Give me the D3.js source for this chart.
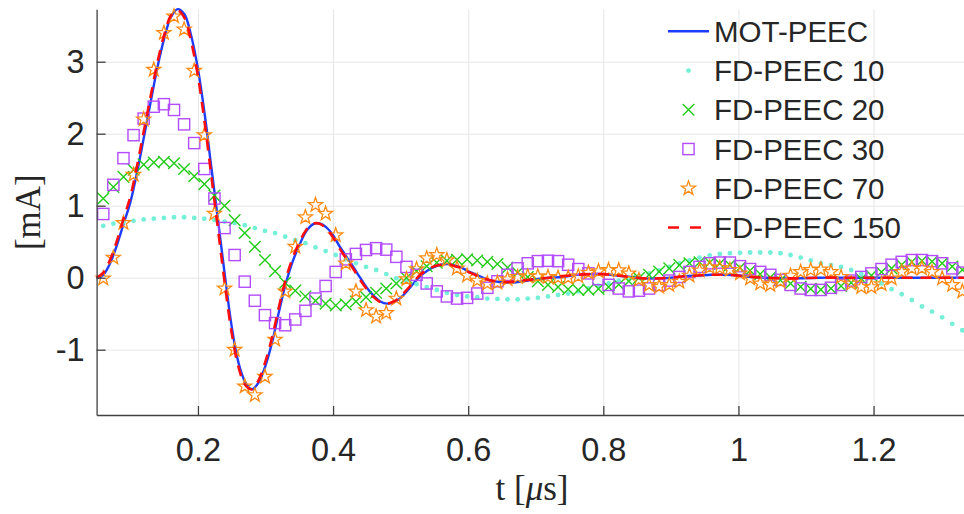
<!DOCTYPE html>
<html><head><meta charset="utf-8">
<script src="https://cdn.jsdelivr.net/npm/d3@7"></script>
<style>html,body{margin:0;padding:0;background:#fff;} svg{display:block;}</style>
</head><body>
<svg id="chart" width="964" height="514"></svg>
<script>
// ---------------- DATA ----------------
// Reference solution (MOT-PEEC), smooth curve: time [us] and current [mA]
const motT = [0.05,0.06,0.07,0.08,0.09,0.10,0.11,0.12,0.13,0.14,0.15,0.16,0.17,0.18,0.19,0.20,0.21,0.22,0.23,0.24,0.25,0.26,0.27,0.28,0.29,0.30,0.31,0.32,0.33,0.34,0.35,0.36,0.37,0.38,0.39,0.40,0.41,0.42,0.43,0.44,0.45,0.46,0.47,0.48,0.49,0.50,0.51,0.52,0.53,0.54,0.55,0.56,0.57,0.58,0.59,0.60,0.61,0.62,0.63,0.64,0.66,0.68,0.70,0.72,0.74,0.76,0.78,0.80,0.82,0.84,0.86,0.88,0.90,0.92,0.94,0.96,0.98,1.00,1.02,1.04,1.08,1.12,1.16,1.20,1.24,1.28,1.32,1.35];
const motV = [-0.01,0.04,0.20,0.45,0.75,1.05,1.47,1.95,2.44,2.92,3.32,3.62,3.73,3.66,3.36,2.90,2.27,1.52,0.78,0.02,-0.68,-1.18,-1.45,-1.55,-1.45,-1.22,-0.89,-0.47,-0.08,0.22,0.45,0.64,0.74,0.755,0.70,0.59,0.43,0.29,0.15,0.00,-0.14,-0.25,-0.33,-0.36,-0.34,-0.28,-0.18,-0.07,0.03,0.10,0.15,0.18,0.19,0.17,0.14,0.09,0.05,0.01,-0.03,-0.05,-0.07,-0.05,-0.02,0.00,0.01,0.04,0.05,0.05,0.03,0.01,-0.01,-0.01,0.00,0.02,0.03,0.04,0.04,0.03,0.01,0.00,-0.01,0.00,0.00,0.00,0.00,0.00,0.00,0.00];
// FD-PEEC 150 (dashed line), same time base
const fd150V = [0.00,0.07,0.25,0.51,0.82,1.13,1.56,2.04,2.52,2.99,3.37,3.64,3.71,3.61,3.28,2.80,2.15,1.40,0.65,-0.10,-0.77,-1.24,-1.49,-1.55,-1.42,-1.16,-0.82,-0.40,-0.02,0.27,0.49,0.66,0.75,0.75,0.68,0.56,0.40,0.26,0.12,-0.03,-0.16,-0.27,-0.34,-0.36,-0.33,-0.26,-0.16,-0.05,0.05,0.11,0.16,0.18,0.19,0.16,0.13,0.08,0.04,0.00,-0.03,-0.05,-0.06,-0.04,-0.02,0.00,0.02,0.04,0.05,0.05,0.03,0.01,-0.01,-0.01,0.00,0.02,0.03,0.04,0.04,0.03,0.01,0.00,-0.01,0.00,0.00,0.00,0.00,0.00,0.00,0.00];

// Marker series are sampled on a common time step
const sampleStep = 0.01496;      // us
const sampleFirst = 4, sampleLast = 89;   // sample indices shown
const fd10V = [0.72,0.75,0.77,0.79,0.81,0.82,0.83,0.84,0.84,0.83,
  0.82,0.80,0.78,0.76,0.73,0.69,0.65,0.62,0.57,0.52,
  0.48,0.42,0.37,0.315,0.255,0.20,0.15,0.107,0.05,-0.01,
  -0.05,-0.09,-0.13,-0.17,-0.21,-0.24,-0.26,-0.27,-0.29,-0.295,
  -0.30,-0.30,-0.29,-0.28,-0.26,-0.24,-0.22,-0.19,-0.15,-0.11,
  -0.08,-0.04,-0.01,0.02,0.06,0.10,0.15,0.20,0.24,0.28,
  0.31,0.33,0.34,0.345,0.35,0.35,0.35,0.34,0.315,0.28,
  0.24,0.20,0.175,0.15,0.107,0.05,-0.01,-0.08,-0.16,-0.23,
  -0.31,-0.40,-0.47,-0.55,-0.64,-0.73];
const fd20V = [1.10,1.26,1.40,1.50,1.57,1.60,1.61,1.59,1.51,1.41,
  1.30,1.14,1.00,0.80,0.62,0.43,0.245,0.09,-0.07,-0.18,
  -0.26,-0.32,-0.36,-0.385,-0.37,-0.33,-0.27,-0.21,-0.15,-0.08,
  0.0,0.09,0.16,0.21,0.235,0.25,0.255,0.24,0.22,0.19,
  0.14,0.07,0.01,-0.05,-0.10,-0.13,-0.16,-0.17,-0.165,-0.155,
  -0.13,-0.095,-0.05,-0.005,0.04,0.085,0.13,0.175,0.20,0.215,
  0.21,0.195,0.175,0.14,0.10,0.05,0.005,-0.035,-0.08,-0.125,
  -0.155,-0.165,-0.15,-0.115,-0.07,-0.015,0.03,0.08,0.13,0.18,
  0.22,0.235,0.225,0.20,0.155,0.11];
const fd30V = [0.885,1.29,1.66,1.98,2.21,2.375,2.41,2.33,2.13,1.87,
  1.51,1.10,0.69,0.315,-0.055,-0.32,-0.52,-0.63,-0.66,-0.58,
  -0.46,-0.29,-0.115,0.08,0.255,0.33,0.385,0.41,0.39,0.29,
  0.15,0.04,-0.08,-0.19,-0.26,-0.29,-0.28,-0.22,-0.14,-0.05,
  0.04,0.13,0.20,0.23,0.235,0.23,0.18,0.12,0.06,-0.02,
  -0.10,-0.15,-0.19,-0.18,-0.15,-0.10,-0.04,0.01,0.08,0.15,
  0.20,0.21,0.21,0.16,0.12,0.08,0.04,-0.03,-0.10,-0.15,
  -0.17,-0.17,-0.14,-0.10,-0.04,0.01,0.06,0.12,0.18,0.22,
  0.245,0.245,0.23,0.20,0.13,0.07];
const fd70V = [-0.01,0.28,0.76,1.43,2.20,2.89,3.40,3.63,3.45,2.875,
  1.98,0.89,-0.15,-1.00,-1.51,-1.63,-1.375,-0.86,-0.19,0.43,
  0.84,1.01,0.89,0.59,0.20,-0.19,-0.45,-0.54,-0.49,-0.29,
  -0.02,0.12,0.27,0.315,0.245,0.13,0.03,-0.04,-0.08,-0.07,
  -0.02,0.01,0.02,0.02,0.01,0.0,0.0,0.02,0.07,0.09,
  0.107,0.105,0.06,-0.03,-0.10,-0.125,-0.10,-0.055,0.03,0.10,
  0.145,0.135,0.11,0.06,-0.01,-0.08,-0.10,-0.05,0.03,0.08,
  0.107,0.115,0.08,0.01,-0.08,-0.13,-0.13,-0.09,-0.01,0.08,
  0.13,0.13,0.08,-0.01,-0.10,-0.19];

const xTicks = [0.2,0.4,0.6,0.8,1,1.2];
const yTicks = [-1,0,1,2,3];
const seriesNames = ["MOT-PEEC","FD-PEEC 10","FD-PEEC 20","FD-PEEC 30","FD-PEEC 70","FD-PEEC 150"];
const yLabel = "[mA]";

// ---------------- STYLE ----------------
const C = {blue:"#1c3dff", red:"#ff0d0d", cyan:"#74f0d8", green:"#22cc18", purple:"#b34cff", orange:"#ff8a12",
           grid:"#e6e6e6", axis:"#404040", text:"#262626"};

const svg = d3.select("#chart");
const P = {left:96.6, right:974.9, top:9.3, bottom:415};
const x = d3.scaleLinear().domain([0.05,1.35]).range([P.left,P.right]);
const y = d3.scaleLinear().domain([-1.907,3.728]).range([P.bottom,P.top]);
const plotH = P.bottom - P.top, plotW = P.right - P.left;

// grid
svg.append("g").attr("transform",`translate(0,${P.bottom})`)
  .call(d3.axisBottom(x).tickValues(xTicks).tickSize(-plotH).tickFormat(""))
  .call(g=>{g.select(".domain").remove(); g.selectAll("line").attr("stroke",C.grid).attr("stroke-width",1);});
svg.append("g").attr("transform",`translate(${P.left},0)`)
  .call(d3.axisLeft(y).tickValues(yTicks).tickSize(-plotW).tickFormat(""))
  .call(g=>{g.select(".domain").remove(); g.selectAll("line").attr("stroke",C.grid).attr("stroke-width",1);});

// data
const sampleT = d3.range(sampleFirst, sampleLast+1).map(k => k*sampleStep);
const mot = motT.map((t,i)=>({t, v:motV[i]}));
const fd150 = motT.map((t,i)=>({t, v:fd150V[i]}));
const pts = arr => sampleT.map((t,i)=>({t, v:arr[i]}));

const line = d3.line().x(d=>x(d.t)).y(d=>y(d.v)).curve(d3.curveCatmullRom.alpha(0.5));
const plotG = svg.append("g");

plotG.append("path").datum(mot).attr("d",line).attr("fill","none").attr("stroke",C.blue).attr("stroke-width",2.4);

// marker shapes
function starPath(R){
  const r = R*0.4; let p="";
  for(let i=0;i<10;i++){
    const a = -Math.PI/2 + i*Math.PI/5, rr = i%2===0?R:r;
    p += (i?"L":"M") + (rr*Math.cos(a)).toFixed(2) + "," + (rr*Math.sin(a)).toFixed(2);
  }
  return p+"Z";
}
const markers = {
  dot: g => g.append("circle").attr("r",2.4).attr("fill",C.cyan),
  x: g => g.append("path").attr("d","M-5.8,-5.8L5.8,5.8M-5.8,5.8L5.8,-5.8").attr("stroke",C.green).attr("stroke-width",1.4).attr("fill","none"),
  sq: g => g.append("rect").attr("x",-5.6).attr("y",-5.6).attr("width",11.2).attr("height",11.2).attr("fill","none").attr("stroke",C.purple).attr("stroke-width",1.4),
  star: g => g.append("path").attr("d",starPath(7.4)).attr("fill","none").attr("stroke",C.orange).attr("stroke-width",1.3).attr("stroke-linejoin","miter")
};
function drawMarkers(data, kind){
  const g = plotG.append("g");
  g.selectAll("g").data(data).join("g")
    .attr("transform",d=>`translate(${x(d.t)},${y(d.v)})`)
    .each(function(){ markers[kind](d3.select(this)); });
}
drawMarkers(pts(fd10V),"dot");
drawMarkers(pts(fd20V),"x");
drawMarkers(pts(fd30V),"sq");
drawMarkers(pts(fd70V),"star");

plotG.append("path").datum(fd150).attr("d",line).attr("fill","none").attr("stroke",C.red).attr("stroke-width",2.6).attr("stroke-dasharray","11,8");

// axes
const fontSans = "'Liberation Sans', Arial, Helvetica, sans-serif";
svg.append("g").attr("transform",`translate(0,${P.bottom})`)
  .call(d3.axisBottom(x).tickValues(xTicks).tickSizeInner(-9).tickSizeOuter(0).tickPadding(23).tickFormat(d=>String(d)))
  .call(g=>{
    g.select(".domain").attr("stroke",C.axis).attr("stroke-width",1.3);
    g.selectAll(".tick line").attr("stroke",C.axis).attr("stroke-width",1.3);
    g.selectAll("text").attr("fill",C.text).attr("font-family",fontSans).attr("font-size",32.5);
  });
svg.append("g").attr("transform",`translate(${P.left},0)`)
  .call(d3.axisLeft(y).tickValues(yTicks).tickSizeInner(-9).tickSizeOuter(0).tickPadding(12).tickFormat(d=>String(d)))
  .call(g=>{
    g.select(".domain").attr("stroke",C.axis).attr("stroke-width",1.3);
    g.selectAll(".tick line").attr("stroke",C.axis).attr("stroke-width",1.3);
    g.selectAll("text").attr("fill",C.text).attr("font-family",fontSans).attr("font-size",32.5);
  });

// axis labels
const fontSerif = "'Liberation Serif', 'Times New Roman', serif";
const xl = svg.append("text").attr("x",532).attr("y",500).attr("text-anchor","middle")
  .attr("font-family",fontSerif).attr("font-size",35).attr("fill",C.text);
xl.append("tspan").text("t [");
xl.append("tspan").attr("font-style","italic").text("\u03BC");
xl.append("tspan").text("s]");
svg.append("text").attr("transform",`translate(40,${(P.top+P.bottom)/2}) rotate(-90)`).attr("text-anchor","middle")
  .attr("font-family",fontSerif).attr("font-size",35).attr("fill",C.text).text(yLabel);

// legend
const leg = svg.append("g");
const legX0 = 668, legX1 = 709, legTextX = 714, legY0 = 31.3, legDy = 39.25;
const legKinds = ["line","dot","x","sq","star","dash"];
seriesNames.forEach((name,i)=>{
  const cy = legY0 + i*legDy;
  const g = leg.append("g");
  const k = legKinds[i];
  if(k==="line") g.append("line").attr("x1",legX0).attr("x2",legX1).attr("y1",cy).attr("y2",cy).attr("stroke",C.blue).attr("stroke-width",2.4);
  else if(k==="dash") g.append("line").attr("x1",legX0).attr("x2",legX1).attr("y1",cy).attr("y2",cy).attr("stroke",C.red).attr("stroke-width",2.6).attr("stroke-dasharray","11,11");
  else { const mg = g.append("g").attr("transform",`translate(${(legX0+legX1)/2},${cy})`); markers[k](mg); }
  g.append("text").attr("x",legTextX).attr("y",cy+10.5).attr("font-family",fontSans).attr("font-size",29.5).attr("fill",C.text).text(name);
});
</script>
</body></html>
